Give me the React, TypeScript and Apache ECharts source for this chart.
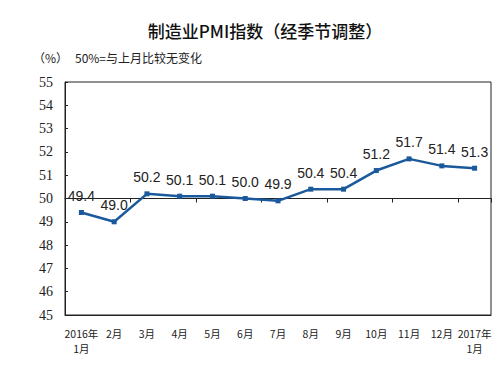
import React, { useEffect, useRef } from "react";
import * as echarts from "echarts";

const categories = [
  "2016年\n1月", "2月", "3月", "4月", "5月", "6月", "7月", "8月", "9月", "10月", "11月", "12月", "2017年\n1月",
];
const pmiValues = [49.4, 49.0, 50.2, 50.1, 50.1, 50.0, 49.9, 50.4, 50.4, 51.2, 51.7, 51.4, 51.3];
const yTicks = { min: 45, max: 55, interval: 1 };
const baseline = 50;

export default function App() {
  const ref = useRef<HTMLDivElement>(null);
  useEffect(() => {
    if (!ref.current) return;
    const chart = echarts.init(ref.current, undefined, { renderer: "svg" });
    const gridTop = 82;
    const gridBottom = 52;
    const gridH = 367 - gridTop - gridBottom;
    const baseOffset = -gridH * (baseline - yTicks.min) / (yTicks.max - yTicks.min);
    chart.setOption({
      animation: false,
      backgroundColor: "#ffffff",
      title: {
        text: "制造业PMI指数（经季节调整）",
        left: 260,
        textAlign: "center",
        top: 17,
        textStyle: { fontFamily: "Noto Sans CJK SC", fontSize: 17, fontWeight: 500, color: "#111" },
      },
      graphic: [
        { type: "text", left: 33, top: 51, style: { text: "（%）", fontFamily: "Noto Sans CJK SC", fontSize: 12, fill: "#222" } },
        { type: "text", left: 75, top: 51, style: { text: "50%=与上月比较无变化", fontFamily: "Noto Sans CJK SC", fontSize: 12, fill: "#222" } },
      ],
      grid: {
        left: 65, right: 7, top: gridTop, bottom: gridBottom,
        show: true, borderColor: "#222", borderWidth: 1, backgroundColor: "transparent",
      },
      xAxis: [
        {
          type: "category",
          data: categories,
          boundaryGap: true,
          position: "bottom",
          axisLine: { show: true, lineStyle: { color: "#222", width: 1 } },
          axisTick: { show: false },
          axisLabel: {
            interval: 0, margin: 11, color: "#222",
            fontFamily: "Noto Sans CJK SC", fontSize: 10.5, lineHeight: 15,
          },
          splitLine: { show: false },
        },
        {
          type: "category",
          data: categories,
          boundaryGap: true,
          position: "bottom",
          offset: baseOffset,
          axisLine: { show: true, lineStyle: { color: "#222", width: 1 } },
          axisTick: { show: true, inside: false, length: 4, lineStyle: { color: "#222" } },
          axisLabel: { show: false },
          splitLine: { show: false },
        },
      ],
      yAxis: {
        type: "value",
        min: yTicks.min, max: yTicks.max, interval: yTicks.interval,
        axisLine: { show: true, lineStyle: { color: "#222" } },
        axisTick: { show: true, inside: true, length: 3, lineStyle: { color: "#222" } },
        axisLabel: { margin: 12, color: "#222", fontFamily: "Liberation Serif", fontSize: 14 },
        splitLine: { show: false },
      },
      series: [
        {
          type: "line",
          data: pmiValues,
          xAxisIndex: 0,
          symbol: "rect",
          symbolSize: 5,
          lineStyle: { color: "#1a5a9c", width: 2.5 },
          itemStyle: { color: "#1a5a9c" },
          label: {
            show: true, position: "top", distance: 7,
            formatter: (p: any) => p.value.toFixed(1),
            fontFamily: "Liberation Sans", fontSize: 14, color: "#222",
          },
        },
      ],
    });
    return () => chart.dispose();
  }, []);
  return <div ref={ref} style={{ width: 498, height: 367, position: "absolute", left: 0, top: 0 }} />;
}
